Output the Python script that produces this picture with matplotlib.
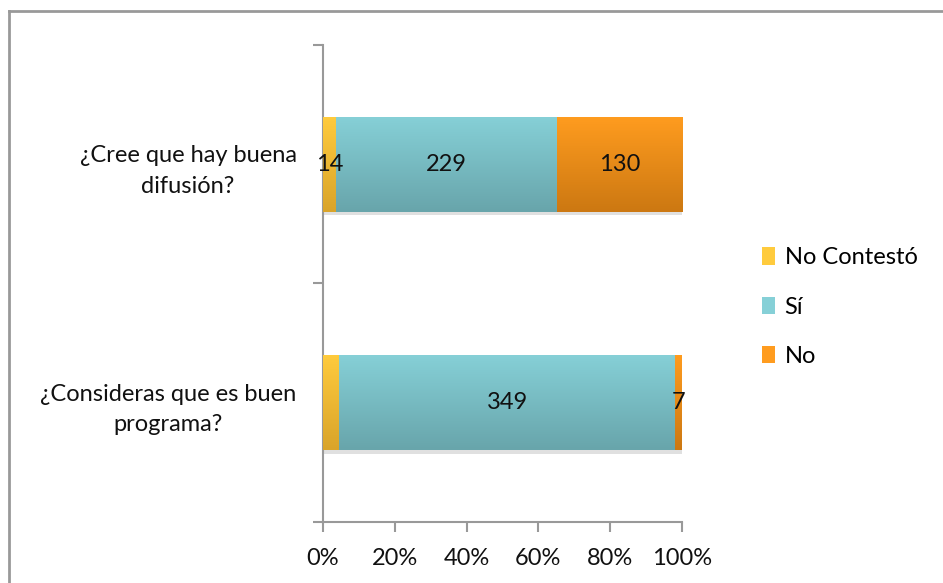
import numpy as np
import matplotlib
matplotlib.use("Agg")
import matplotlib.pyplot as plt
from matplotlib.colors import LinearSegmentedColormap
from matplotlib.lines import Line2D
from matplotlib.patches import Patch
import matplotlib.patheffects as pe

plt.rcParams['font.family'] = ['Lato', 'DejaVu Sans']

# respuestas por pregunta (abajo -> arriba)
preguntas = ['¿Consideras que es buen\nprograma?', '¿Cree que hay buena\ndifusión?']
no_contesto = [17, 14]
si = [349, 229]
no = [7, 130]
# valores que llevan etiqueta en la barra
mostrar = {'No Contestó': [False, True], 'Sí': [True, True], 'No': [True, True]}

series = [
    ('No Contestó', no_contesto, '#ffcb3d', '#d9a42a'),
    ('Sí', si, '#86d0d7', '#68a5ab'),
    ('No', no, '#ff9c1f', '#cc7812'),
]
ticks_x = [0, 20, 40, 60, 80, 100]

totales = np.array(no_contesto) + np.array(si) + np.array(no)

fig = plt.figure(figsize=(9.43, 5.83), dpi=100)
ax = fig.add_axes([323 / 943, 1 - 522 / 583, 359 / 943, 477 / 583])

y = np.arange(len(preguntas))
izquierda = np.zeros(len(preguntas))
sombra = [pe.SimplePatchShadow(offset=(1, -2.5), shadow_rgbFace='#999999', alpha=0.3), pe.Normal()]

for nombre, valores, claro, oscuro in series:
    pct = np.array(valores) / totales * 100
    barras = ax.barh(y, pct, left=izquierda, height=0.4, color=claro, zorder=2,
                     path_effects=sombra)
    cmap = LinearSegmentedColormap.from_list(nombre, [oscuro, claro])
    grad = np.linspace(0, 1, 128).reshape(-1, 1)
    for rect in barras.patches:
        x0, y0 = rect.get_x(), rect.get_y()
        img = ax.imshow(grad, cmap=cmap, origin='lower', aspect='auto', zorder=3,
                        extent=[x0, x0 + rect.get_width(), y0, y0 + rect.get_height()])
        img.set_clip_path(rect)
    for i, (v, p) in enumerate(zip(valores, pct)):
        if mostrar[nombre][i]:
            ax.text(izquierda[i] + p / 2, y[i], str(v), ha='center', va='center',
                    fontsize=17, color='#111111', zorder=4)
    izquierda += pct

ax.set_xlim(0, 100)
ax.set_ylim(-0.5, len(preguntas) - 0.5)

for s in ['top', 'right']:
    ax.spines[s].set_visible(False)
for s in ['left', 'bottom']:
    ax.spines[s].set_color('#999999')
    ax.spines[s].set_linewidth(1.5)

ax.set_xticks(ticks_x)
ax.set_xticklabels([f'{t}%' for t in ticks_x], fontsize=17, color='#111111')
ax.tick_params(axis='x', direction='out', length=7, width=1.5, color='#999999', pad=12)

ax.set_yticks(np.arange(len(preguntas) + 1) - 0.5)
ax.set_yticklabels([])
ax.tick_params(axis='y', which='major', direction='out', length=7, width=1.5, color='#999999')
ax.set_yticks(y, minor=True)
ax.set_yticklabels(preguntas, minor=True, fontsize=17, color='#111111',
                   multialignment='center', linespacing=1.55)
ax.tick_params(axis='y', which='minor', length=0, pad=19)

handles = [Patch(facecolor=c, edgecolor='none') for _, _, c, _ in series]
fig.legend(handles, [s[0] for s in series], loc='upper left',
           bbox_to_anchor=(741 / 943, 1 - 226 / 583), frameon=False, fontsize=17,
           handlelength=0.55, handleheight=0.75, handletextpad=0.4, labelspacing=1.2)

# marco del gráfico
fig.add_artist(Line2D([9 / 943, 1], [1 - 11 / 583] * 2, color='#999999', lw=2))
fig.add_artist(Line2D([9 / 943] * 2, [0, 1 - 11 / 583], color='#999999', lw=2))

fig.savefig('out.png', dpi=100)
